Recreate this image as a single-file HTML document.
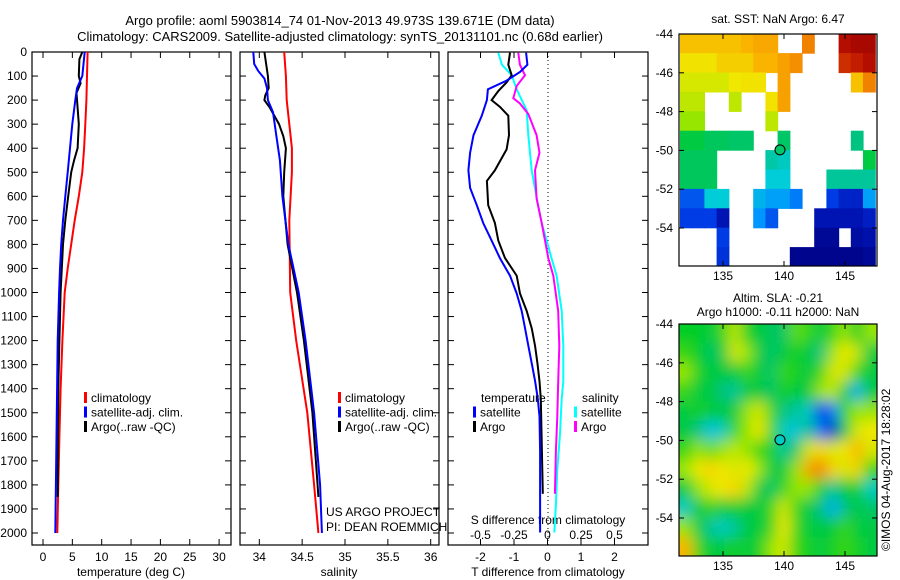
<!DOCTYPE html>
<html><head><meta charset="utf-8"><style>
body{margin:0;background:#fff;}
svg{display:block;font-family:"Liberation Sans",sans-serif;}
text{font-size:12px;fill:#000;}
</style></head><body>
<svg id="c" width="900" height="580" viewBox="0 0 900 580" xmlns="http://www.w3.org/2000/svg">
<rect width="900" height="580" fill="#fff"/>
<text x="340" y="25" text-anchor="middle" style="font-size:13px">Argo profile: aoml 5903814_74 01-Nov-2013 49.973S 139.671E (DM data)</text>
<text x="340" y="41" text-anchor="middle" style="font-size:13px">Climatology: CARS2009. Satellite-adjusted climatology: synTS_20131101.nc (0.68d earlier)</text>
<g id="g"></g>
</svg>
<script>
// ---- Profile data ----
const climTDepth=[0,100,200,300,400,500,600,700,800,900,1000,1200,1400,1600,1800,2000];
const climT=[7.6,7.5,7.4,7.2,7.0,6.7,6.1,5.4,4.8,4.2,3.7,3.3,3.0,2.8,2.6,2.44];
const satTDepth=[0,100,150,200,300,400,500,600,700,800,900,1000,1200,1400,1600,1800,2000];
const satT=[7.1,6.7,5.8,5.5,5.0,4.6,4.2,3.8,3.4,3.1,2.9,2.75,2.5,2.4,2.3,2.2,2.1];
const argoTDepth=[0,30,100,130,170,300,400,450,500,600,700,800,900,1000,1200,1400,1600,1850];
const argoT=[6.7,6.2,6.1,6.4,5.7,6.1,5.9,5.3,4.8,4.3,3.8,3.4,3.2,3.0,2.8,2.6,2.55,2.5];
const climSDepth=[0,100,200,300,400,500,700,1000,1200,1500,1800,2000];
const climS=[34.29,34.31,34.32,34.35,34.38,34.38,34.35,34.36,34.43,34.56,34.64,34.69];
const satSDepth=[0,50,80,110,150,200,250,350,450,600,800,1000,1200,1500,1800,2000];
const satS=[33.93,33.94,33.99,34.06,34.09,34.10,34.16,34.2,34.24,34.27,34.34,34.46,34.54,34.64,34.71,34.73];
const argoSDepth=[0,100,150,180,200,230,300,350,400,500,600,800,1000,1200,1500,1800,1850];
const argoS=[34.06,34.10,34.11,34.07,34.06,34.12,34.23,34.28,34.31,34.29,34.28,34.33,34.44,34.52,34.62,34.68,34.69];
const dTsatDepth=[3,53,83,119,155,200,265,346,419,492,565,637,711,784,857,930,1004,1077,1150,1223,1296,1369,1442,1515,1661,1807,1998];
const dTsat=[-0.64,-0.6,-0.82,-1.22,-1.78,-1.81,-1.96,-2.21,-2.31,-2.36,-2.31,-2.11,-1.92,-1.67,-1.42,-1.12,-0.92,-0.77,-0.67,-0.57,-0.47,-0.37,-0.29,-0.24,-0.22,-0.22,-0.22];
const dTargoDepth=[3,53,97,126,162,200,228,265,346,405,492,536,637,711,784,857,930,1004,1077,1150,1223,1296,1369,1442,1837];
const dTargo=[-1.12,-1.17,-1.07,-1.22,-1.47,-1.67,-1.42,-1.17,-1.15,-1.22,-1.57,-1.81,-1.77,-1.57,-1.47,-1.27,-0.92,-0.82,-0.62,-0.47,-0.37,-0.30,-0.24,-0.20,-0.14];
const dSsatDepth=[3,53,97,155,243,346,492,609,711,784,857,930,1077,1223,1369,1442,1588,1735,1881,1998];
const dSsat=[-0.367,-0.34,-0.267,-0.23,-0.155,-0.143,-0.118,-0.08,-0.043,-0.006,0.03,0.068,0.106,0.118,0.118,0.106,0.093,0.073,0.063,0.051];
const dSargoDepth=[3,53,97,141,192,214,258,346,419,492,609,711,857,930,1077,1223,1369,1515,1661,1837];
const dSargo=[-0.218,-0.206,-0.168,-0.23,-0.255,-0.206,-0.143,-0.081,-0.06,-0.093,-0.081,-0.043,0.006,0.043,0.08,0.088,0.08,0.073,0.063,0.055];
const depthTicks=[0,100,200,300,400,500,600,700,800,900,1000,1100,1200,1300,1400,1500,1600,1700,1800,1900,2000];
const tTicks=[0,5,10,15,20,25,30];
const sTicks=[34,34.5,35,35.5,36];
const sTickLabels=["34","34.5","35","35.5","36"];
const dTTicks=[-2,-1,0,1,2];
const dSTicks=[-0.5,-0.25,0,0.25,0.5];
const dSTickLabels=["-0.5","-0.25","0","0.25","0.5"];
// ---- Map data (normalised colour values, null = no data); rows lat -44..-56, cols lon 131.5..147.5 ----
const lonStart=131.5, latStart=-44;
const sstGrid=[
[0.68,0.68,0.68,0.68,0.68,0.70,0.72,0.72,null,null,0.78,null,null,0.95,0.97,0.97],
[0.63,0.63,0.63,0.66,0.66,0.66,0.70,0.70,0.73,0.76,null,null,null,0.90,0.92,0.95],
[0.60,0.60,0.60,0.60,0.62,0.63,0.63,null,0.73,null,null,null,null,null,0.68,0.78],
[0.58,0.58,null,null,0.58,null,null,0.63,0.73,null,null,null,null,null,null,null],
[0.55,0.55,null,null,null,null,null,0.58,null,null,null,null,null,null,null,null],
[0.45,0.45,0.43,0.43,0.42,0.42,null,null,0.42,null,null,null,null,null,0.40,null],
[0.43,0.43,0.43,null,null,null,null,0.37,0.35,null,null,null,null,null,null,0.45],
[0.43,0.43,0.43,null,null,null,null,0.33,0.33,null,null,null,0.38,0.38,0.38,0.38],
[0.22,0.22,0.33,0.33,null,null,0.30,0.28,0.28,0.25,null,null,0.20,0.15,0.15,0.28],
[0.20,0.20,0.20,0.12,null,null,0.27,0.22,null,null,null,0.12,0.12,0.12,0.12,0.14],
[null,null,null,0.20,null,null,null,null,null,null,null,0.05,0.05,null,0.08,0.10],
[null,null,null,0.18,null,null,null,null,null,0.03,0.03,0.03,0.03,0.03,0.03,0.05]];
const slaGrid=[
[0.47,0.47,0.45,0.50,0.58,0.48,0.45,0.43,0.42,0.52,0.50,0.45,0.50,0.55,0.47,0.55],
[0.50,0.47,0.42,0.45,0.60,0.55,0.45,0.42,0.45,0.48,0.45,0.40,0.55,0.62,0.58,0.45],
[0.55,0.48,0.45,0.45,0.45,0.50,0.45,0.42,0.50,0.48,0.45,0.50,0.60,0.60,0.50,0.45],
[0.50,0.45,0.45,0.40,0.38,0.45,0.45,0.42,0.48,0.45,0.45,0.55,0.58,0.45,0.30,0.45],
[0.45,0.48,0.45,0.45,0.45,0.55,0.60,0.50,0.40,0.38,0.35,0.20,0.25,0.50,0.55,0.55],
[0.45,0.40,0.32,0.35,0.50,0.55,0.62,0.50,0.35,0.32,0.40,0.25,0.15,0.45,0.60,0.62],
[0.50,0.55,0.52,0.55,0.58,0.55,0.50,0.48,0.38,0.42,0.60,0.65,0.60,0.62,0.70,0.60],
[0.55,0.62,0.65,0.62,0.60,0.62,0.55,0.45,0.45,0.55,0.72,0.78,0.65,0.60,0.65,0.50],
[0.45,0.55,0.60,0.62,0.65,0.58,0.45,0.42,0.50,0.55,0.55,0.48,0.38,0.45,0.48,0.35],
[0.35,0.45,0.50,0.45,0.48,0.45,0.45,0.50,0.60,0.50,0.45,0.40,0.30,0.40,0.45,0.42],
[0.55,0.45,0.38,0.35,0.38,0.45,0.45,0.50,0.62,0.50,0.45,0.45,0.45,0.50,0.45,0.45],
[0.70,0.50,0.45,0.45,0.48,0.45,0.48,0.55,0.60,0.50,0.48,0.45,0.48,0.50,0.48,0.45]];
const lonTicks=[135,140,145];
const latTicks=[-44,-46,-48,-50,-52,-54];
const argoLon=139.671, argoLat=-49.973;

const NS="http://www.w3.org/2000/svg";
const G=document.getElementById('g');
function mk(tag,attrs,parent){const e=document.createElementNS(NS,tag);for(const k in attrs)e.setAttribute(k,attrs[k]);(parent||G).appendChild(e);return e;}
function txt(x,y,s,anchor,parent){const t=mk('text',{x:x,y:y,'text-anchor':anchor||'start'},parent);t.textContent=s;return t;}

const yD=d=>52+d*0.2405;
const xT=v=>43+v*5.87;
const xS=v=>259.3+(v-34)*85.7;
const xdT=v=>547.5+v*33.5;
const xdS=v=>547.5+v*134;
const panels=[{x0:32,x1:231},{x0:240,x1:439},{x0:448,x1:648}];
const YB=545;

panels.forEach((p,i)=>{
  const r=mk('rect',{x:p.x0,y:52,width:p.x1-p.x0,height:YB-52,fill:'none',stroke:'#000','stroke-width':1.2});
  
  
  depthTicks.forEach(d=>{
    mk('line',{x1:p.x0,x2:p.x0+6,y1:yD(d),y2:yD(d),stroke:'#000'});
    mk('line',{x1:p.x1-6,x2:p.x1,y1:yD(d),y2:yD(d),stroke:'#000'});
  });
});
depthTicks.forEach(d=>{
  const t=txt(27,yD(d)+4,String(d),'end');
  
  
});
function xTicks(vals,labels,fx,y,top,bot){
  vals.forEach((v,i)=>{
    const x=fx(v);
    if(top)mk('line',{x1:x,x2:x,y1:52,y2:58,stroke:'#000'});
    if(bot)mk('line',{x1:x,x2:x,y1:YB-6,y2:YB,stroke:'#000'});
    const t=txt(x,y,labels[i],'middle');
    
    
  });
}
xTicks(tTicks,tTicks.map(String),xT,561,true,true);
xTicks(sTicks,sTickLabels,xS,561,true,true);
xTicks(dTTicks,dTTicks.map(String),xdT,561,true,true);
dSTicks.forEach((v,i)=>{
  const t=txt(xdS(v),539,dSTickLabels[i],'middle');
  
  
});
[[131,'temperature (deg C)','temperature-axis-title'],[339,'salinity','salinity-axis-title'],[548,'T difference from climatology','t-diff-axis-title']].forEach(a=>{
  const t=txt(a[0],576,a[1],'middle');
  
  
});
const sdt=txt(548,524,'S difference from climatology','middle');


const zl=mk('line',{x1:548,x2:548,y1:52,y2:YB,stroke:'#000','stroke-dasharray':'1,3'});



function line(depths,vals,fx,color,name){
  const pts=depths.map((d,i)=>fx(vals[i]).toFixed(1)+','+yD(d).toFixed(1)).join(' ');
  const l=mk('polyline',{points:pts,fill:'none',stroke:color,'stroke-width':2});
  
  
}
line(climTDepth,climT,xT,'#f00','temp-climatology-line');
line(argoTDepth,argoT,xT,'#000','temp-argo-line');
line(satTDepth,satT,xT,'#00f','temp-satellite-line');
line(climSDepth,climS,xS,'#f00','sal-climatology-line');
line(argoSDepth,argoS,xS,'#000','sal-argo-line');
line(satSDepth,satS,xS,'#00f','sal-satellite-line');
line(dSsatDepth,dSsat,xdS,'#0ff','sdiff-satellite-line');
line(dSargoDepth,dSargo,xdS,'#f0f','sdiff-argo-line');
line(dTargoDepth,dTargo,xdT,'#000','tdiff-argo-line');
line(dTsatDepth,dTsat,xdT,'#00f','tdiff-satellite-line');

function legend(x,y,color,label){
  const b=mk('rect',{x:x,y:y-10,width:3,height:11,fill:color});
  
  
  const t=txt(x+7,y,label);
  
  
}
[[84,'#f00','climatology'],[84,'#00f','satellite-adj. clim.'],[84,'#000','Argo(..raw -QC)'],[338,'#f00','climatology'],[338,'#00f','satellite-adj. clim.'],[338,'#000','Argo(..raw -QC)']].forEach((a,i)=>legend(a[0],402+(i%3)*14.5,a[1],a[2]));
const lt=txt(481,402,'temperature');
const ls=txt(582,402,'salinity');
legend(473,416.5,'#00f','satellite');legend(473,431,'#000','Argo');
legend(574,416.5,'#0ff','satellite');legend(574,431,'#f0f','Argo');
const u1=txt(326,516,'US ARGO PROJECT');
const u2=txt(326,531,'PI: DEAN ROEMMICH');

const cmStops=[[0,[0,0,128]],[0.12,[0,20,180]],[0.2,[0,60,230]],[0.27,[0,150,255]],[0.33,[0,205,215]],[0.4,[0,195,130]],[0.47,[0,205,40]],[0.55,[150,230,0]],[0.62,[240,232,0]],[0.7,[250,180,0]],[0.78,[240,130,0]],[0.86,[225,80,0]],[0.93,[190,20,0]],[1,[150,0,0]]];
function cmap(v){
  for(let i=1;i<cmStops.length;i++){if(v<=cmStops[i][0]){const a=cmStops[i-1],b=cmStops[i];const t=(v-a[0])/(b[0]-a[0]);return 'rgb('+a[1].map((c,k)=>Math.round(c+(b[1][k]-c)*t)).join(',')+')';}}
  return 'rgb(150,0,0)';
}
function drawMap(y0,grid,name,blur){
  const xL=v=>723+(v-135)*12.2;
  const yL=v=>y0+(latStart-v)*19.4;
  const x0=679,x1=877,yb=y0+232;
  const cp=mk('clipPath',{id:'cp'+y0});
  mk('rect',{x:x0,y:y0,width:x1-x0,height:yb-y0},cp);
  const g=mk('g',{'clip-path':'url(#cp'+y0+')'});
  if(blur){const f=mk('filter',{id:'bl'+y0,x:'-10%',y:'-10%',width:'120%',height:'120%'});mk('feGaussianBlur',{stdDeviation:7},f);}
  const inner=mk('g',blur?{filter:'url(#bl'+y0+')'}:{},g);
  grid.forEach((row,r)=>row.forEach((v,c)=>{
    if(v===null)return;
    const lon=lonStart+c, lat=latStart-r;
    let w=12.8,h=20,xx=xL(lon)-0.3,yy=yL(lat)-0.3;
    if(blur){ if(c===0){xx-=15;w+=15;} if(c===row.length-1){w+=15;} if(r===0){yy-=15;h+=15;} if(r===grid.length-1){h+=15;} }
    const cell=mk('rect',{x:xx,y:yy,width:w,height:h,fill:cmap(v)},inner);
    
    
  }));
  const f=mk('rect',{x:x0,y:y0,width:x1-x0,height:yb-y0,fill:'none',stroke:'#000','stroke-width':1.2});
  
  
  lonTicks.forEach(v=>{
    mk('line',{x1:xL(v),x2:xL(v),y1:y0,y2:y0+5,stroke:'#000'});
    mk('line',{x1:xL(v),x2:xL(v),y1:yb-5,y2:yb,stroke:'#000'});
    const t=txt(xL(v),yb+14,String(v),'middle');
    
    
  });
  latTicks.forEach(v=>{
    mk('line',{x1:x0,x2:x0+5,y1:yL(v),y2:yL(v),stroke:'#000'});
    mk('line',{x1:x1-5,x2:x1,y1:yL(v),y2:yL(v),stroke:'#000'});
    const t=txt(673,yL(v)+4,String(v),'end');
    
    
  });
  const r=Math.floor(latStart-argoLat), c=Math.floor(argoLon-lonStart);
  const v=grid[r][c];
  const m=mk('circle',{cx:xL(argoLon),cy:yL(argoLat),r:5,fill:v===null?'none':cmap(v),stroke:'#000','stroke-width':1});
  
  
}
drawMap(34,sstGrid,'sst-map',false);
drawMap(324,slaGrid,'sla-map',true);
const m1=txt(778,23,'sat. SST: NaN Argo: 6.47','middle');
const m2=txt(778,302,'Altim. SLA: -0.21','middle');
const m3=txt(778,316,'Argo h1000: -0.11 h2000: NaN','middle');
const cr=txt(0,0,'©IMOS 04-Aug-2017 18:28:02','start');
cr.setAttribute('transform','translate(890,551) rotate(-90)');


</script>
</body></html>
